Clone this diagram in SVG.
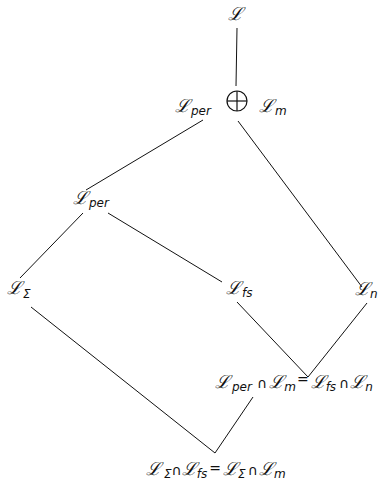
<svg xmlns="http://www.w3.org/2000/svg" width="379" height="490" viewBox="0 0 379 490">
<style>
.L{font-family:"DejaVu Serif",serif;font-size:18px;fill:#111;font-style:italic}
.s{font-family:"DejaVu Sans",sans-serif;font-size:12px;font-style:italic}
.op{font-family:"DejaVu Sans",sans-serif;font-size:14px;font-style:normal}
.c{stroke:#111;stroke-width:1;fill:none}
</style>
<rect width="379" height="490" fill="#fff"/>
<g id="connectors">
<line class="c" x1="237" y1="28" x2="236" y2="86"/>
<line class="c" x1="203" y1="120" x2="86" y2="190"/>
<line class="c" x1="238" y1="121" x2="362" y2="287"/>
<line class="c" x1="83" y1="213" x2="20" y2="278"/>
<line class="c" x1="108" y1="213" x2="222" y2="282"/>
<line class="c" x1="237" y1="302" x2="308" y2="377"/>
<line class="c" x1="308" y1="377" x2="367" y2="303"/>
<line class="c" x1="31" y1="307" x2="215" y2="453"/>
<line class="c" x1="215" y1="453" x2="253" y2="397"/>
</g>
<g id="node-L"><text class="L" x="228" y="20">ℒ</text></g>
<g id="node-sum">
<text class="L" x="175" y="112">ℒ<tspan class="s" dx="1" dy="3">per</tspan></text>
<circle cx="237" cy="101" r="10" fill="none" stroke="#111" stroke-width="1.2"/>
<line x1="227" y1="101" x2="247" y2="101" stroke="#111" stroke-width="1.2"/>
<line x1="237" y1="91" x2="237" y2="111" stroke="#111" stroke-width="1.2"/>
<text class="L" x="259" y="112">ℒ<tspan class="s" dx="1" dy="3">m</tspan></text>
</g>
<g id="node-Lper"><text class="L" x="73" y="204">ℒ<tspan class="s" dx="1" dy="3">per</tspan></text></g>
<g id="node-LSigma"><text class="L" x="7" y="294">ℒ<tspan class="s" dx="1" dy="4">Σ</tspan></text></g>
<g id="node-Lfs"><text class="L" x="226" y="294">ℒ<tspan class="s" dx="1" dy="3">fs</tspan></text></g>
<g id="node-Ln"><text class="L" x="355" y="295">ℒ<tspan class="s" dy="3">n</tspan></text></g>
<g id="node-int1"><text class="L" x="215" y="388">ℒ<tspan class="s" dx="2" dy="3">per</tspan><tspan class="op" dx="5" dy="-3">∩</tspan><tspan dx="2">ℒ</tspan><tspan class="s" dy="3">m</tspan><tspan class="op" dx="1" dy="-7">=</tspan><tspan dx="2" dy="4">ℒ</tspan><tspan class="s" dy="3">fs</tspan><tspan class="op" dx="3" dy="-3">∩</tspan><tspan dx="1">ℒ</tspan><tspan class="s" dy="3">n</tspan></text></g>
<g id="node-int2"><text class="L" x="146" y="475">ℒ<tspan class="s" dx="3" dy="3">Σ</tspan><tspan class="op" dy="-3">∩</tspan><tspan>ℒ</tspan><tspan class="s" dy="3">fs</tspan><tspan class="op" dx="2" dy="-5">=</tspan><tspan dx="2" dy="2">ℒ</tspan><tspan class="s" dy="3">Σ</tspan><tspan class="op" dx="2" dy="-3">∩</tspan><tspan dx="1">ℒ</tspan><tspan class="s" dy="3">m</tspan></text></g>
</svg>
